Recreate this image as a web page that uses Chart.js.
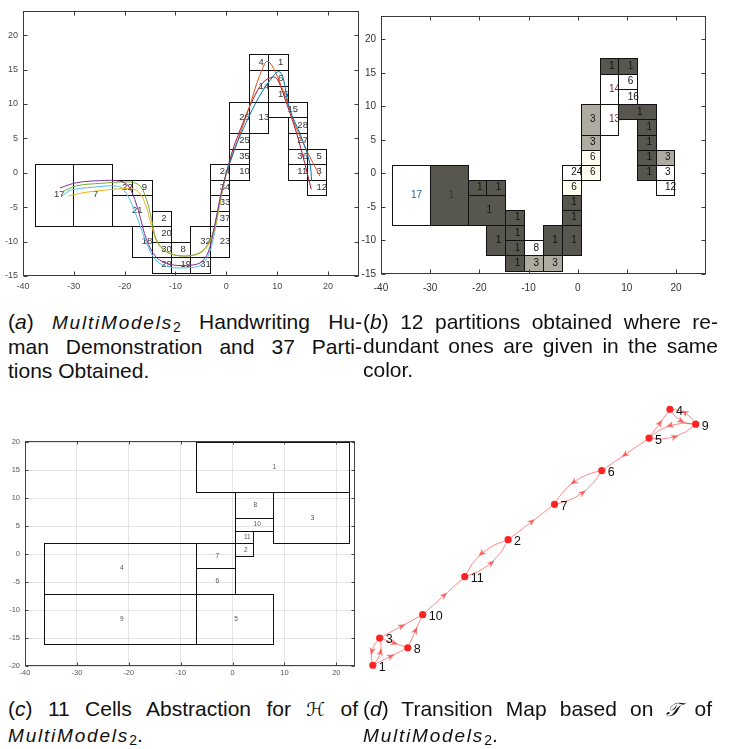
<!DOCTYPE html>
<html>
<head>
<meta charset="utf-8">
<script src="https://cdn.jsdelivr.net/npm/chart.js@4.4.1/dist/chart.umd.min.js"></script>
<style>
html,body{margin:0;padding:0;background:#fff;}
body{width:731px;height:749px;position:relative;overflow:hidden;}
.wrap{position:absolute;}
.cap{position:absolute;font-family:"Liberation Sans",Arial,Helvetica,sans-serif;font-size:21px;line-height:24px;color:#111;}
.cap div{white-space:nowrap;}
.cap div.j{text-align:justify;text-align-last:justify;}
.mm{font-family:"Liberation Sans",Arial,sans-serif;font-style:italic;letter-spacing:1.8px;font-size:19px;}
.mm sub{font-style:normal;font-size:14px;letter-spacing:0;vertical-align:-3px;line-height:0;}
.sc{font-family:"DejaVu Serif","DejaVu Sans",serif;font-style:italic;font-size:19px;}
</style>
</head>
<body>
<div class="wrap" style="left:0;top:0"><canvas id="ca" width="365" height="292"></canvas></div>
<div class="wrap" style="left:360px;top:0"><canvas id="cb" width="371" height="296"></canvas></div>
<div class="wrap" style="left:0;top:430px"><canvas id="cc" width="365" height="250"></canvas></div>
<div class="wrap" style="left:360px;top:390px"><canvas id="cd" width="371" height="300"></canvas></div>

<div class="cap" style="left:8px;top:310px;width:354px">
  <div class="j">(<i>a</i>) <span class="mm">MultiModels<sub>2</sub></span> Handwriting Hu-</div>
  <div class="j">man Demonstration and 37 Parti-</div>
  <div>tions Obtained.</div>
</div>
<div class="cap" style="left:363px;top:310px;width:355px">
  <div class="j">(<i>b</i>) 12 partitions obtained where re-</div>
  <div class="j">dundant ones are given in the same</div>
  <div>color.</div>
</div>
<div class="cap" style="left:8px;top:696px;width:350px;line-height:25px">
  <div class="j">(<i>c</i>) 11 Cells Abstraction for <span class="sc">ℋ</span> of</div>
  <div><span class="mm">MultiModels<sub>2</sub></span>.</div>
</div>
<div class="cap" style="left:363px;top:696px;width:349px;line-height:25px">
  <div class="j">(<i>d</i>) Transition Map based on <span class="sc">𝒯</span> of</div>
  <div><span class="mm">MultiModels<sub>2</sub></span>.</div>
</div>

<script>
// ---------- Panel (a)/(b): 37 partitions ----------
const partLabels = ['17','7','22','9','21','2','18','20','30','8','29','19','31','32','23','37','33','34','24','10','35','25','26','13','14','4','1','6','16','15','28','27','36','11','5','3','12'];
const partX0 = [-37.7,-30.1,-22.4,-18.6,-22.4,-14.7,-18.6,-14.7,-14.7,-10.9,-14.7,-10.9,-7.1,-7.1,-3.2,-3.2,-3.2,-3.2,-3.2,0.6,0.6,0.6,0.6,4.45,4.45,4.45,8.25,8.25,8.25,8.25,12.1,12.1,12.1,12.1,15.85,15.85,15.85];
const partX1 = [-30.1,-22.4,-18.6,-14.7,-14.7,-10.9,-14.7,-10.9,-10.9,-7.1,-10.9,-7.1,-3.2,-3.2,0.6,0.6,0.6,0.6,0.6,4.45,4.45,4.45,4.45,8.25,8.25,8.25,12.1,12.1,12.1,15.85,15.85,15.85,15.85,15.85,19.65,19.65,19.65];
const partY0 = [-7.7,-7.7,-3.2,-3.2,-7.7,-7.7,-12.2,-10.0,-12.2,-12.2,-14.5,-14.5,-14.5,-12.2,-12.2,-7.7,-5.5,-3.2,-1.0,-1.0,1.3,3.5,5.8,5.8,10.3,14.9,14.9,12.6,10.3,8.1,5.8,3.5,1.3,-1.0,1.3,-1.0,-3.2];
const partY1 = [1.3,1.3,-1.0,-1.0,-3.2,-5.5,-7.7,-7.7,-10.0,-10.0,-12.2,-12.2,-12.2,-7.7,-7.7,-5.5,-3.2,-1.0,1.3,1.3,3.5,5.8,10.3,10.3,14.9,17.2,17.2,14.9,12.6,10.3,8.1,5.8,3.5,1.3,3.5,1.3,-1.0];

// (b) group id shown in each partition and its shade class
const groupLabels = ['17','1','1','1','1','1','1','1','1','8','1','3','3','1','1','1','1','6','24','6','6','3','3','13','14','1','1','6','16','1','1','1','1','1','3','3','12'];
const groupShade  = ['w','d','d','d','d','d','d','d','d','w','d','g','g','d','d','d','d','c','w','c','c','g','g','w','w','d','d','w','w','d','d','d','d','d','g','w','w'];
const shadeColors = {w:'#ffffff', d:'#58574f', g:'#aeaca1', c:'#fffff0'};

// demonstrations (a)
const demoPurpleX = [-32.7,-29.5,-24.9,-21,-19.3,-18,-17,-15.7,-13.75,-11.1,-7.9,-5.2,-3.6,-2.3,-1.3,0];
const demoPurpleY = [-2.2,-1.45,-1.15,-1.2,-1.9,-3.9,-6.3,-9.7,-12.3,-13.3,-13.45,-13.1,-11.6,-7.7,-3.9,0];
const demoGreenX  = [-32.4,-29.5,-24.9,-19,-17,-15.7,-14.7,-13.75,-11.8,-8.5,-5.2,-3.3,-2,-1,0];
const demoGreenY  = [-2.8,-1.9,-1.55,-1.35,-1.9,-3.9,-6.8,-9.7,-11.5,-12.1,-11.6,-9.9,-6.8,-2.9,0];
const demoYellowX = [-31.1,-28.2,-23.6,-19,-17.4,-16,-14.7,-13.4,-11.1,-8.2,-5.2,-3.3,-2,-1,0];
const demoYellowY = [-3.4,-2.9,-2.5,-2.3,-2.7,-4.4,-7.7,-10.4,-11.7,-12.1,-11.7,-10.2,-7.3,-3.4,0];
const demoCyanX   = [-32.4,-30.5,-26.2,-22.3,-20.6,-19,-17.4,-15.7,-13.75,-11.1,-7.9,-5.2,-3.6,-2.3,-1.3,0];
const demoCyanY   = [-3.4,-2.5,-2.1,-1.9,-2.2,-3.9,-6.8,-10.2,-12.8,-13.7,-13.8,-13.5,-12.1,-8.7,-4.4,0];
const demoOrangeX = [18.4,15.7,13.1,11.1,8.2,6.5,4.6,2.3,0];
const demoOrangeY = [-0.5,3.4,7.7,12.1,16.2,14.0,9.7,4.8,0];
const demoBlueX   = [16.8,16.4,14.7,12.4,11.1,10.3,9.2,6.5,3.9,1.6,0];
const demoBlueY   = [-1.2,1.45,5.3,9.4,14.0,14.7,14.0,11.1,7.3,3.4,0];
const demoMaroonX = [16.7,15.4,13.8,11.8,10.1,9.2,7.2,5.2,3.3,1.3,0];
const demoMaroonY = [-2.4,1.45,5.8,10.2,13.5,13.9,13.1,10.6,7.3,3.4,0];

// ---------- Panel (c): 11 cells ----------
const cellLabels = ['1','2','3','4','5','6','7','8','9','10','11'];
const cellX0 = [-7.0,0.4,7.7,-36.4,-7.0,-7.0,-7.0,0.4,-36.4,0.4,0.4];
const cellX1 = [22.4,4.0,22.4,-7.0,7.7,0.4,0.4,7.7,-7.0,7.7,4.0];
const cellY0 = [11.0,-0.36,1.9,-7.1,-16.1,-7.1,-2.56,6.5,-16.1,4.2,1.9];
const cellY1 = [20.0,1.9,11.0,1.9,-7.1,-2.56,1.9,11.0,-7.1,6.5,4.2];

// ---------- Panel (d): transition graph ----------
const nodeLabels = ['1','2','3','4','5','6','7','8','9','10','11'];
const nodeX = [2.43,39.7,4.31,84.29,78.52,65.5,52.48,12.05,91.37,16.17,27.76];
const nodeY = [7.1,50.1,16.43,94.77,84.9,73.77,62.23,13.1,89.67,24.43,37.43];
const edgeFrom = ['5','4','9','5','9','5','6','7','2','2','11','10','3','8','3','1','3','1'];
const edgeTo   = ['4','9','4','9','5','6','7','6','7','11','2','11','10','10','8','8','1','3'];

// x / y tick labels are generated from these ranges
const axisAB = {xMin:-40, xMax:26.1, yMin:-15, yMax:23.5, xStep:10, yStep:5};
const axisC  = {xMin:-40, xMax:23.6, yMin:-20, yMax:20.2, xStep:10, yStep:5};

const FONT = '"Liberation Sans", Arial, Helvetica, sans-serif';
Chart.defaults.font.family = FONT;

function px(v){ return Math.round(v)+0.5; }

function boxPlugin(opts){
  return {
    id:'boxp',
    beforeDatasetsDraw(chart){
      const {ctx, scales:{x:sx, y:sy}} = chart;
      ctx.save();
      opts.cells(ctx, sx, sy);
      ctx.restore();
    },
    afterDraw(chart){
      const {ctx, chartArea:a, scales:{x:sx, y:sy}} = chart;
      ctx.save();
      ctx.strokeStyle = opts.axisColor; ctx.lineWidth = 1;
      const L=px(a.left), R=px(a.right)-1, T=px(a.top), B=px(a.bottom)-1;
      ctx.strokeRect(L,T,R-L,B-T);
      const tl = opts.tickLen;
      ctx.beginPath();
      sx.ticks.forEach(t=>{const p=px(sx.getPixelForValue(t.value)); ctx.moveTo(p,B); ctx.lineTo(p,B-tl); ctx.moveTo(p,T); ctx.lineTo(p,T+tl);});
      sy.ticks.forEach(t=>{const p=px(sy.getPixelForValue(t.value)); ctx.moveTo(L,p); ctx.lineTo(L+tl,p); ctx.moveTo(R,p); ctx.lineTo(R-tl,p);});
      ctx.stroke();
      ctx.restore();
    }
  };
}

function rectPix(sx, sy, x0, x1, y0, y1){
  const L=px(sx.getPixelForValue(x0)), R=px(sx.getPixelForValue(x1));
  const T=px(sy.getPixelForValue(y1)), B=px(sy.getPixelForValue(y0));
  return {L,R,T,B};
}

function scales(ax, o){
  return {
    x:{type:'linear', min:ax.xMin, max:ax.xMax,
       afterFit:s=>{s.height=o.xh;},
       grid:{display:o.grid, drawTicks:false, color:o.gridColor, lineWidth:1},
       border:{display:false},
       ticks:{stepSize:ax.xStep, includeBounds:false, autoSkip:false, maxRotation:0, padding:o.xpad, color:o.tickColor, font:{size:o.fs}}},
    y:{type:'linear', min:ax.yMin, max:ax.yMax,
       afterFit:s=>{s.width=o.yw;},
       grid:{display:o.grid, drawTicks:false, color:o.gridColor, lineWidth:1},
       border:{display:false},
       ticks:{stepSize:ax.yStep, includeBounds:false, autoSkip:false, padding:o.ypad, color:o.tickColor, font:{size:o.fs}}}
  };
}

const baseOpts = {responsive:false, animation:false, events:[], plugins:{legend:{display:false}, tooltip:{enabled:false}}};

// ----- Chart (a)
const demos = [
  {x:demoPurpleX, y:demoPurpleY, c:'#7E2F8E'},
  {x:demoGreenX,  y:demoGreenY,  c:'#77AC30'},
  {x:demoYellowX, y:demoYellowY, c:'#EDB120'},
  {x:demoCyanX,   y:demoCyanY,   c:'#4DBEEE'},
  {x:demoBlueX,   y:demoBlueY,   c:'#0072BD'},
  {x:demoOrangeX, y:demoOrangeY, c:'#D95319'},
  {x:demoMaroonX, y:demoMaroonY, c:'#A2142F'}
];
new Chart(document.getElementById('ca'), {
  type:'scatter',
  data:{datasets: demos.map(d=>({data:d.x.map((v,i)=>({x:v, y:d.y[i]})), showLine:true, borderColor:d.c, borderWidth:1, pointRadius:0, tension:0.35, fill:false}))},
  options:Object.assign({}, baseOpts, {
    layout:{padding:{top:11, right:6, left:0, bottom:0}},
    scales:scales(axisAB, {xh:16, yw:23, grid:false, gridColor:'#fff', xpad:5, ypad:5, tickColor:'#4a4a4a', fs:9})
  }),
  plugins:[boxPlugin({axisColor:'#3a3a3a', tickLen:4, cells:(ctx,sx,sy)=>{
    ctx.strokeStyle='#111'; ctx.lineWidth=1;
    for(let i=0;i<partLabels.length;i++){
      const r=rectPix(sx,sy,partX0[i],partX1[i],partY0[i],partY1[i]);
      ctx.strokeRect(r.L,r.T,r.R-r.L,r.B-r.T);
    }
    ctx.fillStyle='#333'; ctx.font='9.5px '+FONT; ctx.textAlign='left'; ctx.textBaseline='middle';
    for(let i=0;i<partLabels.length;i++){
      ctx.fillText(partLabels[i], sx.getPixelForValue((partX0[i]+partX1[i])/2), sy.getPixelForValue((partY0[i]+partY1[i])/2));
    }
  }})]
});

// ----- Chart (b)
const groupLabelColors = groupLabels.map((l,i)=> i===0 ? '#1565a8' : (i===1 ? '#233a60' : ((i===23||i===24) ? '#7a1a1a' : '#111')));
new Chart(document.getElementById('cb'), {
  type:'scatter',
  data:{datasets:[]},
  options:Object.assign({}, baseOpts, {
    layout:{padding:{top:16, right:25, left:0, bottom:0}},
    scales:scales(axisAB, {xh:22, yw:21, grid:false, gridColor:'#fff', xpad:8, ypad:5, tickColor:'#333', fs:10})
  }),
  plugins:[boxPlugin({axisColor:'#3a3a3a', tickLen:4, cells:(ctx,sx,sy)=>{
    ctx.lineWidth=1; ctx.font='10px '+FONT; ctx.textAlign='left'; ctx.textBaseline='middle';
    for(let i=0;i<groupLabels.length;i++){
      const r=rectPix(sx,sy,partX0[i],partX1[i],partY0[i],partY1[i]);
      ctx.fillStyle=shadeColors[groupShade[i]];
      ctx.fillRect(r.L,r.T,r.R-r.L,r.B-r.T);
      ctx.strokeStyle='#111';
      ctx.strokeRect(r.L,r.T,r.R-r.L,r.B-r.T);
      ctx.fillStyle=groupLabelColors[i];
      ctx.fillText(groupLabels[i], sx.getPixelForValue((partX0[i]+partX1[i])/2), sy.getPixelForValue((partY0[i]+partY1[i])/2));
    }
  }})]
});

// ----- Chart (c)
new Chart(document.getElementById('cc'), {
  type:'scatter',
  data:{datasets:[]},
  options:Object.assign({}, baseOpts, {
    layout:{padding:{top:11, right:10, left:0, bottom:0}},
    scales:scales(axisC, {xh:14, yw:25, grid:true, gridColor:'#e4e4e4', xpad:2, ypad:5, tickColor:'#555', fs:7.5})
  }),
  plugins:[boxPlugin({axisColor:'#444', tickLen:3, cells:(ctx,sx,sy)=>{
    ctx.strokeStyle='#111'; ctx.lineWidth=1;
    for(let i=0;i<cellLabels.length;i++){
      const r=rectPix(sx,sy,cellX0[i],cellX1[i],cellY0[i],cellY1[i]);
      ctx.strokeRect(r.L,r.T,r.R-r.L,r.B-r.T);
    }
    ctx.fillStyle='#555'; ctx.font='6.5px '+FONT; ctx.textAlign='left'; ctx.textBaseline='middle';
    for(let i=0;i<cellLabels.length;i++){
      ctx.fillText(cellLabels[i], sx.getPixelForValue((cellX0[i]+cellX1[i])/2), sy.getPixelForValue((cellY0[i]+cellY1[i])/2));
    }
  }})]
});

// ----- Chart (d)
const graphPlugin = {
  id:'graph',
  beforeDatasetsDraw(chart){
    const {ctx, scales:{x:sx, y:sy}} = chart;
    const P = lab => { const i=nodeLabels.indexOf(lab); return {x:sx.getPixelForValue(nodeX[i]), y:sy.getPixelForValue(nodeY[i])}; };
    ctx.save();
    ctx.strokeStyle='rgba(255,40,40,0.55)'; ctx.fillStyle='rgba(255,40,40,0.65)'; ctx.lineWidth=1;
    for(let e=0;e<edgeFrom.length;e++){
      const a=P(edgeFrom[e]), b=P(edgeTo[e]);
      let bidir=false;
      for(let f=0;f<edgeFrom.length;f++){ if(edgeFrom[f]===edgeTo[e] && edgeTo[f]===edgeFrom[e]) bidir=true; }
      const dx=b.x-a.x, dy=b.y-a.y, len=Math.hypot(dx,dy);
      const nx=-dy/len, ny=dx/len;
      const k = bidir ? 0.17*len+4 : 0;
      const cx=(a.x+b.x)/2+nx*k, cy=(a.y+b.y)/2+ny*k;
      ctx.beginPath(); ctx.moveTo(a.x,a.y); ctx.quadraticCurveTo(cx,cy,b.x,b.y); ctx.stroke();
      // arrow at the middle of the edge
      const mx=0.25*a.x+0.5*cx+0.25*b.x, my=0.25*a.y+0.5*cy+0.25*b.y;
      const ux=dx/len, uy=dy/len, vx=-uy, vy=ux;
      ctx.beginPath();
      ctx.moveTo(mx+ux*4.5, my+uy*4.5);
      ctx.lineTo(mx-ux*3+vx*3.2, my-uy*3+vy*3.2);
      ctx.lineTo(mx-ux*1, my-uy*1);
      ctx.lineTo(mx-ux*3-vx*3.2, my-uy*3-vy*3.2);
      ctx.closePath(); ctx.fill();
    }
    ctx.restore();
  },
  afterDatasetsDraw(chart){
    const {ctx, scales:{x:sx, y:sy}} = chart;
    ctx.save();
    ctx.fillStyle='#111'; ctx.font='12.5px '+FONT; ctx.textAlign='left'; ctx.textBaseline='middle';
    for(let i=0;i<nodeLabels.length;i++){
      ctx.fillText(nodeLabels[i], sx.getPixelForValue(nodeX[i])+6, sy.getPixelForValue(nodeY[i])+2);
    }
    ctx.restore();
  }
};
new Chart(document.getElementById('cd'), {
  type:'scatter',
  data:{datasets:[{data:nodeX.map((x,i)=>({x, y:nodeY[i]})), pointRadius:3.6, backgroundColor:'#ff2222', borderWidth:0}]},
  options:Object.assign({}, baseOpts, {
    layout:{padding:0},
    scales:{x:{display:false, min:0, max:100}, y:{display:false, min:0, max:100}}
  }),
  plugins:[graphPlugin]
});
</script>
</body>
</html>
